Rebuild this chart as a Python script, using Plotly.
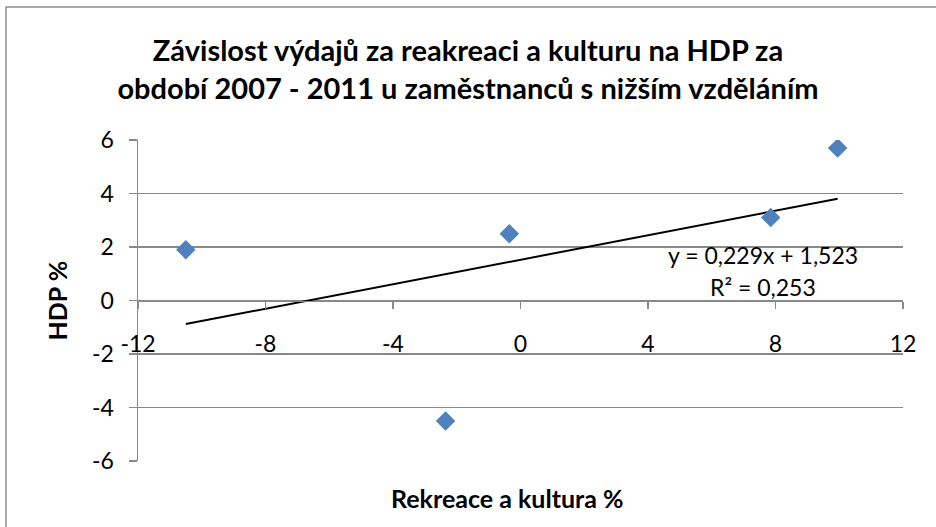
import plotly.graph_objects as go

# ---- data ----
x_vals = [-10.5, -2.35, -0.35, 7.85, 9.95]
y_vals = [1.9, -4.5, 2.5, 3.1, 5.7]
slope = 0.229
intercept = 1.523
r_squared = 0.253
x_ticks = [-12, -8, -4, 0, 4, 8, 12]
x_tick_labels = ["-12", "-8", "-4", "0", "4", "8", "12"]
y_ticks = [-6, -4, -2, 0, 2, 4, 6]
y_tick_labels = ["-6", "-4", "-2", "0", "2", "4", "6"]
title_lines = ["Závislost výdajů za reakreaci a kulturu na HDP za",
               "období 2007 - 2011 u zaměstnanců s nižším vzděláním"]
x_title = "Rekreace a kultura %"
y_title = "HDP %"

FONT = "Lato"
GRID = "#898989"
W, H = 936, 527
ML, MR, MT, MB = 138, 33, 140, 66
pw = W - ML - MR
ph = H - MT - MB

def fmt(v):
    return f"{v:.3f}".replace(".", ",")

x_min, x_max = min(x_vals), max(x_vals)
trend_x = [x_min, x_max]
trend_y = [slope * v + intercept for v in trend_x]

fig = go.Figure()
fig.add_trace(go.Scatter(
    x=trend_x, y=trend_y, mode="lines",
    line=dict(color="black", width=2), hoverinfo="skip", showlegend=False))
fig.add_trace(go.Scatter(
    x=x_vals, y=y_vals, mode="markers",
    marker=dict(symbol="diamond", size=15, color="#4F81BD"),
    showlegend=False))

xr = [x_ticks[0], x_ticks[-1]]
yr = [y_ticks[0], y_ticks[-1]]
zero_pos = (0 - yr[0]) / (yr[1] - yr[0])

fig.update_layout(
    width=W, height=H,
    margin=dict(l=ML, r=MR, t=MT, b=MB),
    paper_bgcolor="white", plot_bgcolor="white",
    font=dict(family=FONT, color="black", size=23),
    title=dict(text="<b>" + "<br>".join(title_lines) + "</b>",
               x=468 / W, xanchor="center",
               y=1 - 61 / H, yanchor="middle",
               font=dict(family=FONT, size=29, color="black")),
    xaxis=dict(range=xr, tickvals=x_ticks, ticktext=x_tick_labels,
               ticks="outside", ticklen=7,
               tickcolor=GRID, tickwidth=1.5,
               showline=True, linecolor=GRID, linewidth=1.5,
               showgrid=False, zeroline=False,
               anchor="free", position=zero_pos,
               ticklabelstandoff=15,
               tickfont=dict(size=23)),
    yaxis=dict(range=yr, tickvals=y_ticks, ticktext=y_tick_labels,
               ticks="outside", ticklen=8,
               tickcolor=GRID, tickwidth=1.5,
               showline=True, linecolor=GRID, linewidth=1.5,
               showgrid=True, gridcolor=GRID, gridwidth=1.5,
               zeroline=False, ticklabelstandoff=10,
               tickfont=dict(size=23)),
)

fig.add_annotation(xref="paper", yref="paper",
                   x=(507 - ML) / pw, y=-(498 - (H - MB)) / ph,
                   text="<b>" + x_title + "</b>", showarrow=False,
                   font=dict(size=25), xanchor="center", yanchor="middle")
fig.add_annotation(xref="paper", yref="paper",
                   x=-(ML - 56) / pw, y=0.5,
                   text="<b>" + y_title + "</b>", showarrow=False, textangle=-90,
                   font=dict(size=25), xanchor="center", yanchor="middle")
fig.add_annotation(x=7.6, y=1.69, text=f"y = {fmt(slope)}x + {fmt(intercept)}",
                   showarrow=False, font=dict(size=23), xanchor="center", yanchor="middle")
fig.add_annotation(x=7.6, y=0.5, text=f"R² = {fmt(r_squared)}",
                   showarrow=False, font=dict(size=23), xanchor="center", yanchor="middle")

# outer chart border (left/top visible)
fig.add_shape(type="rect", xref="paper", yref="paper",
              x0=-(ML - 6) / pw, x1=1 + (MR + 10) / pw,
              y0=-(MB + 10) / ph, y1=1 + (MT - 7) / ph,
              line=dict(color="#8c8c8c", width=1.5), layer="below")

fig.write_html("out.html",
               config={"displayModeBar": False, "staticPlot": True},
               post_script="document.body.style.margin='0';document.body.style.overflow='hidden';")
